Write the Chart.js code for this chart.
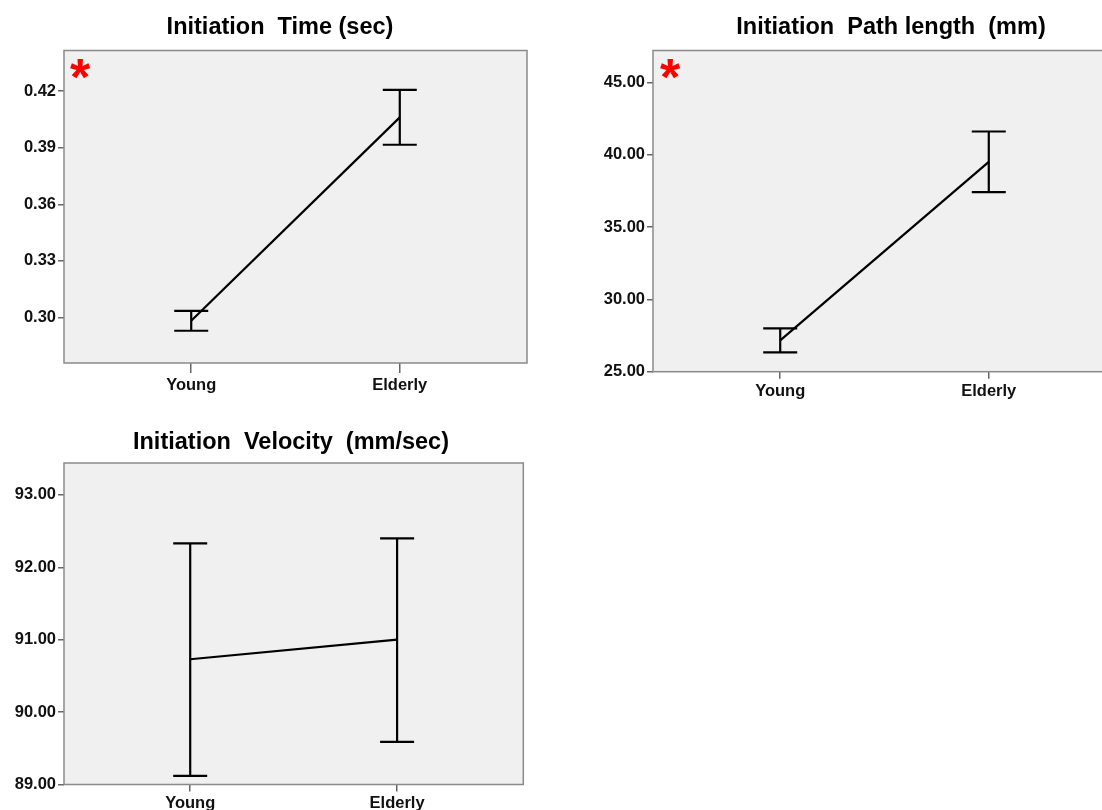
<!DOCTYPE html>
<html>
<head>
<meta charset="utf-8">
<script src="https://cdn.jsdelivr.net/npm/chart.js@4.4.1/dist/chart.umd.min.js"></script>
<style>
  html, body { margin: 0; padding: 0; background: #ffffff; overflow: hidden; width: 1102px; height: 810px; }
  .panel { position: absolute; }
  .star { position: absolute; color: #ff0000; font: bold 52px "Liberation Sans", Arial, sans-serif; line-height: 1; }
</style>
</head>
<body>
<div class="panel" style="left:0px;top:0px;"><canvas id="timeChart" width="560" height="400"></canvas></div>
<div class="panel" style="left:583px;top:0px;"><canvas id="pathChart" width="616" height="410"></canvas></div>
<div class="panel" style="left:0px;top:412px;"><canvas id="velChart" width="582" height="398"></canvas></div>
<div class="star" style="left:70px;top:51px;">*</div>
<div class="star" style="left:660px;top:51px;">*</div>
<script>
// Groups on the x axis
const categories = ['Young', 'Elderly'];

// Initiation time (sec): group means and 95% CI limits
const timeMean = [0.2982, 0.4061];
const timeLow  = [0.2929, 0.3916];
const timeHigh = [0.3035, 0.4207];
const timeTicks = [0.30, 0.33, 0.36, 0.39, 0.42];
const timeRange = [0.2758, 0.4416];

// Initiation path length (mm)
const pathMean = [27.17, 39.51];
const pathLow  = [26.34, 37.42];
const pathHigh = [28.00, 41.61];
const pathTicks = [25, 30, 35, 40, 45];
const pathRange = [25, 47.21];

// Initiation velocity (mm/sec)
const velMean = [90.73, 91.00];
const velLow  = [89.12, 89.59];
const velHigh = [92.33, 92.40];
const velTicks = [89, 90, 91, 92, 93];
const velRange = [89, 93.44];

const FONT = '"Liberation Sans", Arial, sans-serif';
const FRAME = '#8a8a8a';

// Grey plot background and frame around the chart area
const plotFrame = {
  id: 'plotFrame',
  beforeDraw(chart) {
    const a = chart.chartArea, ctx = chart.ctx;
    ctx.save();
    ctx.fillStyle = '#f0f0f0';
    ctx.fillRect(a.left, a.top, a.right - a.left, a.bottom - a.top);
    ctx.restore();
  },
  afterDraw(chart) {
    const a = chart.chartArea, ctx = chart.ctx;
    ctx.save();
    ctx.strokeStyle = FRAME;
    ctx.lineWidth = 1.5;
    ctx.strokeRect(a.left, a.top, a.right - a.left, a.bottom - a.top);
    ctx.restore();
  }
};

// Vertical CI bars with caps, placed through the chart's scales
const errorBars = {
  id: 'errorBars',
  afterDatasetsDraw(chart, args, opts) {
    const ctx = chart.ctx, xs = chart.scales.x, ys = chart.scales.y;
    ctx.save();
    ctx.strokeStyle = '#000';
    ctx.lineWidth = 2.2;
    chart.data.datasets[0].data.forEach((p, i) => {
      const px = xs.getPixelForValue(p.x);
      const top = ys.getPixelForValue(opts.high[i]);
      const bot = ys.getPixelForValue(opts.low[i]);
      ctx.beginPath();
      ctx.moveTo(px, top); ctx.lineTo(px, bot);
      ctx.moveTo(px - opts.cap, top); ctx.lineTo(px + opts.cap, top);
      ctx.moveTo(px - opts.cap, bot); ctx.lineTo(px + opts.cap, bot);
      ctx.stroke();
    });
    ctx.restore();
  }
};

function makeChart(id, spec) {
  const points = spec.mean.map((v, i) => ({ x: i, y: v }));
  return new Chart(document.getElementById(id), {
    type: 'line',
    data: {
      datasets: [{
        data: points,
        borderColor: '#000',
        borderWidth: 2.2,
        pointRadius: 0,
        fill: false,
        tension: 0
      }]
    },
    options: {
      responsive: false,
      animation: false,
      devicePixelRatio: 1,
      layout: { padding: 0 },
      plugins: {
        legend: { display: false },
        tooltip: { enabled: false },
        title: {
          display: true,
          text: spec.title,
          color: '#000',
          font: { family: FONT, size: 23.5, weight: 'bold' },
          padding: { top: spec.titleTop, bottom: spec.titleBottom }
        },
        errorBars: { low: spec.low, high: spec.high, cap: 17 }
      },
      scales: {
        x: {
          type: 'linear',
          min: -0.61,
          max: 1.61,
          afterBuildTicks: (axis) => { axis.ticks = categories.map((c, i) => ({ value: i })); },
          afterFit: (axis) => { axis.height = spec.xHeight; },
          border: { display: false },
          grid: { drawOnChartArea: false, drawTicks: true, tickLength: spec.xTick, color: '#666', lineWidth: 1.5 },
          ticks: {
            padding: spec.xPad,
            color: '#111',
            font: { family: FONT, size: 16.5, weight: 'bold' },
            maxRotation: 0,
            callback: (v) => categories[v]
          }
        },
        y: {
          type: 'linear',
          min: spec.range[0],
          max: spec.range[1],
          afterBuildTicks: (axis) => { axis.ticks = spec.ticks.map(v => ({ value: v })); },
          afterFit: (axis) => { axis.width = spec.yWidth; },
          border: { display: false },
          grid: { drawOnChartArea: false, drawTicks: true, tickLength: 6, color: '#666', lineWidth: 1.5 },
          ticks: {
            padding: 2,
            color: '#111',
            font: { family: FONT, size: 16.5, weight: 'bold' },
            callback: (v) => Number(v).toFixed(2)
          }
        },
        // empty right-hand margin so the title stays centred on the whole panel
        gap: {
          type: 'linear',
          position: 'right',
          afterFit: (axis) => { axis.width = spec.padRight; },
          border: { display: false },
          grid: { display: false },
          ticks: { display: false }
        }
      }
    },
    plugins: [plotFrame, errorBars]
  });
}

makeChart('timeChart', {
  title: 'Initiation  Time (sec)',
  mean: timeMean, low: timeLow, high: timeHigh,
  ticks: timeTicks, range: timeRange,
  yWidth: 64, xHeight: 37, xTick: 10, xPad: 3,
  padRight: 33, titleTop: 13, titleBottom: 9.3
});

makeChart('pathChart', {
  title: 'Initiation  Path length  (mm)',
  mean: pathMean, low: pathLow, high: pathHigh,
  ticks: pathTicks, range: pathRange,
  yWidth: 70, xHeight: 38.3, xTick: 7, xPad: 3,
  padRight: 83, titleTop: 13, titleBottom: 9.3
});

makeChart('velChart', {
  title: 'Initiation  Velocity  (mm/sec)',
  mean: velMean, low: velLow, high: velHigh,
  ticks: velTicks, range: velRange,
  yWidth: 64, xHeight: 25.5, xTick: 7, xPad: 2,
  padRight: 58.7, titleTop: 16, titleBottom: 6.8
});
</script>
</body>
</html>
